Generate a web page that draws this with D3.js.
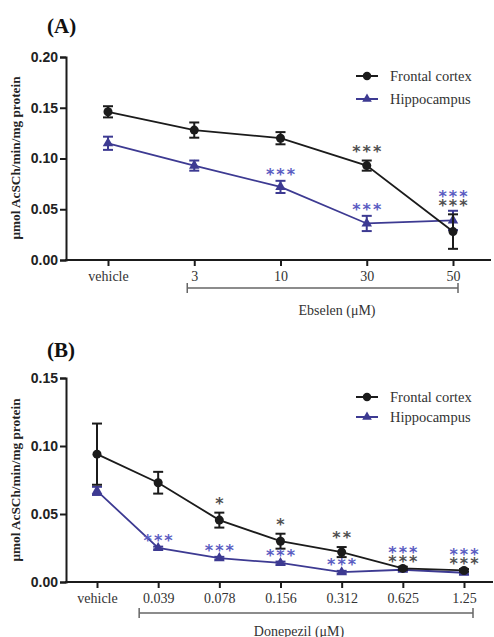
<!DOCTYPE html>
<html>
<head>
<meta charset="utf-8">
<script src="https://cdn.jsdelivr.net/npm/d3@7"></script>
<style>
  html, body { margin: 0; padding: 0; background: #fff; }
  svg { display: block; }
</style>
</head>
<body>
<svg id="chart" width="494" height="637"></svg>
<script>
// ---------- DATA ----------
const catsA = ["vehicle", "3", "10", "30", "50"];
const frontalA = [0.146, 0.128, 0.120, 0.093, 0.028];
const frontalErrA = [0.0055, 0.0075, 0.006, 0.005, 0.017];
const hippA = [0.115, 0.093, 0.072, 0.036, 0.039];
const hippErrA = [0.0065, 0.005, 0.006, 0.0075, 0.0095];
const sigFrontalA = ["", "", "", "***", "***"];
const sigHippA = ["", "", "***", "***", "***"];
const yTicksA = [0, 0.05, 0.10, 0.15, 0.20];

const catsB = ["vehicle", "0.039", "0.078", "0.156", "0.312", "0.625", "1.25"];
const frontalB = [0.094, 0.073, 0.0455, 0.030, 0.022, 0.010, 0.0085];
const frontalErrB = [0.0225, 0.008, 0.0055, 0.0055, 0.0037, 0.0012, 0.001];
const hippB = [0.067, 0.025, 0.0175, 0.014, 0.0072, 0.009, 0.0068];
const hippErrB = [0.003, 0.001, 0.001, 0.001, 0.001, 0.001, 0.001];
const sigFrontalB = ["", "", "*", "*", "**", "***", "***"];
const sigHippB = ["", "***", "***", "***", "***", "***", "***"];
const yTicksB = [0, 0.05, 0.10, 0.15];

const seriesNames = ["Frontal cortex", "Hippocampus"];
const yLabel = "μmol AcSCh/min/mg protein";

// ---------- STYLE ----------
const BLACK = "#1b1b1b";
const BLUE = "#3d3a92";
const STAR_GRAY = "#505050";
const STAR_BLUE = "#5a5cc2";
const serif = "'Liberation Serif', 'Times New Roman', serif";
const sans = "'Liberation Sans', Arial, sans-serif";
const STAR_FS = 16;

const svg = d3.select("#chart");

function panel(cfg) {
  const g = svg.append("g");
  const x = d3.scalePoint().domain(cfg.cats).range(cfg.xRange);
  const y = d3.scaleLinear().domain(cfg.yDomain).range(cfg.yRange);
  const axisX0 = cfg.axisLeft, axisX1 = cfg.axisRight;
  const y0 = y(0);

  // Panel title
  g.append("text").attr("x", 47).attr("y", cfg.titleY)
    .style("font-family", serif).attr("font-weight", "bold")
    .attr("font-size", 21).attr("fill", "#111").text(cfg.title);

  // Y axis
  const yAxis = d3.axisLeft(y).tickValues(cfg.yTicks).tickFormat(d3.format(".2f"))
    .tickSize(6).tickPadding(2);
  const ya = g.append("g").attr("transform", `translate(${axisX0},0)`).call(yAxis);
  ya.select(".domain").attr("stroke", BLACK).attr("stroke-width", 2);
  ya.selectAll(".tick line").attr("stroke", BLACK).attr("stroke-width", 2);
  ya.selectAll(".tick text").style("font-family", sans).attr("font-weight", "bold")
    .attr("font-size", 14).attr("fill", "#222");

  // Y label
  g.append("text")
    .attr("transform", `translate(${cfg.yLabelX},${cfg.yLabelY}) rotate(-90)`)
    .attr("text-anchor", "middle").attr("dominant-baseline", "central")
    .style("font-family", serif).attr("font-weight", "bold").attr("font-size", 13.3)
    .attr("fill", "#222").text(yLabel);

  // X axis
  const xAxis = d3.axisBottom(x).tickSize(6).tickPadding(5);
  const xa = g.append("g").attr("transform", `translate(0,${y0})`).call(xAxis);
  xa.select(".domain").remove();
  g.append("line").attr("x1", axisX0 - 1).attr("x2", axisX1).attr("y1", y0).attr("y2", y0)
    .attr("stroke", BLACK).attr("stroke-width", 2);
  xa.selectAll(".tick line").attr("stroke", BLACK).attr("stroke-width", 2);
  xa.selectAll(".tick text").style("font-family", serif).attr("font-size", 14)
    .attr("fill", "#333");

  // Bracket
  const bx0 = x(cfg.cats[1]) + cfg.bracketL, bx1 = x(cfg.cats[cfg.cats.length - 1]) + cfg.bracketR;
  const by = y0 + cfg.bracketDy;
  const br = g.append("g").attr("stroke", "#666").attr("stroke-width", 1.5);
  br.append("line").attr("x1", bx0).attr("x2", bx1).attr("y1", by).attr("y2", by);
  br.append("line").attr("x1", bx0).attr("x2", bx0).attr("y1", by - 5).attr("y2", by + 5);
  br.append("line").attr("x1", bx1).attr("x2", bx1).attr("y1", by - 5).attr("y2", by + 5);
  g.append("text").attr("x", cfg.drugX).attr("y", y0 + cfg.drugDy)
    .attr("text-anchor", "middle").attr("dominant-baseline", "central")
    .style("font-family", serif).attr("font-size", 14).attr("fill", "#333")
    .text(cfg.drug);

  // Series
  const series = [
    { vals: cfg.frontal, errs: cfg.frontalErr, color: BLACK, shape: "circle" },
    { vals: cfg.hipp, errs: cfg.hippErr, color: BLUE, shape: "triangle" }
  ];
  const line = d3.line().x((d, i) => x(cfg.cats[i])).y(d => y(d));
  [series[1], series[0]].forEach(s => {
    g.append("path").datum(s.vals).attr("d", line).attr("fill", "none")
      .attr("stroke", s.color).attr("stroke-width", 1.8);
    const eg = g.append("g").attr("stroke", s.color).attr("stroke-width", 2);
    s.vals.forEach((v, i) => {
      const cx = x(cfg.cats[i]);
      const t = y(v + s.errs[i]), b = y(v - s.errs[i]);
      eg.append("line").attr("x1", cx).attr("x2", cx).attr("y1", t).attr("y2", b);
      eg.append("line").attr("x1", cx - 5).attr("x2", cx + 5).attr("y1", t).attr("y2", t);
      eg.append("line").attr("x1", cx - 5).attr("x2", cx + 5).attr("y1", b).attr("y2", b);
    });
    const sym = s.shape === "circle" ? d3.symbol(d3.symbolCircle, 64) : d3.symbol(d3.symbolTriangle, 48);
    g.append("g").selectAll("path").data(s.vals).join("path")
      .attr("d", sym)
      .attr("transform", (d, i) => `translate(${x(cfg.cats[i])},${y(d)})`)
      .attr("fill", s.color);
  });

  // Significance stars (one text element per category; stacked lines as tspans)
  function starText(cx) {
    return g.append("text")
      .attr("text-anchor", "middle")
      .style("font-family", "'DejaVu Sans', sans-serif")
      .attr("font-weight", "bold")
      .attr("font-size", STAR_FS).attr("letter-spacing", 2);
  }
  const off = 0.57 * STAR_FS;
  cfg.cats.forEach((c, i) => {
    const cx = x(c) + 1;
    const sf = cfg.sigF[i], sh = cfg.sigH[i];
    const fTop = y(cfg.frontal[i] + cfg.frontalErr[i]);
    const hTop = y(cfg.hipp[i] + cfg.hippErr[i]);
    const close = Math.abs(y(cfg.frontal[i]) - y(cfg.hipp[i])) < 15;
    if (sf && sh && close) {
      const top = Math.min(fTop, hTop);
      const t = starText(cx);
      t.append("tspan").attr("x", cx).attr("y", top - 18 + off).attr("fill", STAR_BLUE).text(sh);
      t.append("tspan").attr("x", cx).attr("y", top - 9 + off).attr("fill", STAR_GRAY).text(sf);
    } else {
      if (sf) starText(cx).attr("x", cx).attr("y", fTop - 13 + off).attr("fill", STAR_GRAY).text(sf);
      if (sh) starText(cx).attr("x", cx).attr("y", hTop - 10 + off).attr("fill", STAR_BLUE).text(sh);
    }
  });

  // Legend
  const lg = g.append("g");
  seriesNames.forEach((name, k) => {
    const ly = cfg.legendY[k];
    const col = k === 0 ? BLACK : BLUE;
    lg.append("line").attr("x1", 356).attr("x2", 378).attr("y1", ly).attr("y2", ly)
      .attr("stroke", col).attr("stroke-width", 2);
    const sym = k === 0 ? d3.symbol(d3.symbolCircle, 56) : d3.symbol(d3.symbolTriangle, 40);
    lg.append("path").attr("d", sym).attr("transform", `translate(367,${ly})`).attr("fill", col);
    lg.append("text").attr("x", 390).attr("y", ly).attr("dominant-baseline", "central")
      .style("font-family", serif).attr("font-size", 14.5).attr("fill", "#333").text(name);
  });
}

panel({
  title: "(A)", titleY: 33,
  cats: catsA, frontal: frontalA, frontalErr: frontalErrA, hipp: hippA, hippErr: hippErrA,
  sigF: sigFrontalA, sigH: sigHippA,
  yTicks: yTicksA, yDomain: [0, 0.20], yRange: [260, 57],
  xRange: [108, 453], axisLeft: 66, axisRight: 491,
  yLabelX: 15, yLabelY: 158,
  bracketL: -7, bracketR: 5, bracketDy: 28,
  drug: "Ebselen (μM)", drugX: 337, drugDy: 50,
  legendY: [76, 99]
});

panel({
  title: "(B)", titleY: 357,
  cats: catsB, frontal: frontalB, frontalErr: frontalErrB, hipp: hippB, hippErr: hippErrB,
  sigF: sigFrontalB, sigH: sigHippB,
  yTicks: yTicksB, yDomain: [0, 0.15], yRange: [582, 378],
  xRange: [97, 464], axisLeft: 66, axisRight: 493,
  yLabelX: 15, yLabelY: 480,
  bracketL: -19, bracketR: 9, bracketDy: 31,
  drug: "Donepezil (μM)", drugX: 299, drugDy: 49,
  legendY: [397, 417]
});
</script>
</body>
</html>
